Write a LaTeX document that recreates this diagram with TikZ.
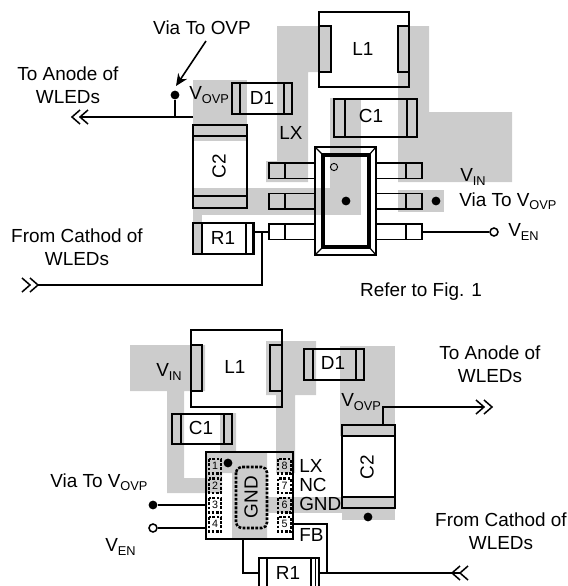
\documentclass[tikz,border=0pt]{standalone}
\usepackage{fontspec}
\setmainfont{Liberation Sans}
\usetikzlibrary{arrows.meta}
\definecolor{padgray}{HTML}{CCCCCC}
\newcommand{\lowtxt}[1]{\raisebox{-2.6pt}{\fontsize{9.6}{10}\selectfont #1}}
\tikzset{
  lbl/.style={font=\fontsize{14.2}{15}\selectfont,inner sep=0pt,align=center},
  pinnum/.style={font=\fontsize{8}{8}\selectfont,inner sep=0pt},
  part/.style={draw=black,line width=1.15pt},
  wire/.style={draw=black,line width=1.15pt},
  pad/.style={fill=padgray,draw=none},
  via/.style={circle,fill=black,draw=none,minimum size=6.6pt,inner sep=0pt},
  term/.style={circle,fill=white,draw=black,line width=1.15pt,minimum size=6pt,inner sep=0pt},
  pinbox/.style={draw=black,line width=1.9pt,dash pattern=on 2.1pt off 1.1pt},
}
\newcommand{\chevL}[2]{\draw[wire] (#1+8,#2-7) -- (#1,#2) -- (#1+8,#2+7);\draw[wire] (#1+16,#2-7) -- (#1+8,#2) -- (#1+16,#2+7);}
\newcommand{\chevR}[2]{\draw[wire] (#1-8,#2-7) -- (#1,#2) -- (#1-8,#2+7);\draw[wire] (#1-16,#2-7) -- (#1-8,#2) -- (#1-16,#2+7);}
\begin{document}
\begin{tikzpicture}[x=0.75pt,y=-0.75pt]
\useasboundingbox (0,0) rectangle (568,586);
\clip (0,0) rectangle (568,586);
% ---------- top: copper
\fill[pad] (277,26) -- (331,26) -- (331,72) -- (308,72) -- (308,182) -- (266,182) -- (266,161) -- (277,161) -- cycle;
\fill[pad] (398,26) -- (429,26) -- (429,112) -- (512,112) -- (512,182) -- (398,182) -- cycle;
\fill[pad] (330,98) rectangle (361,215);
\fill[pad] (193,188) rectangle (361,215);
\fill[pad] (193,80) rectangle (247,141);
\fill[pad] (193,215) rectangle (202,254);
\fill[pad] (398,190) rectangle (444,212);
% top: L1
\draw[part] (319,12) rectangle (409,87);
\draw[part] (319,26) rectangle (331,72);
\draw[part] (398,26) rectangle (409,72);
\node[lbl] (l1a) at (363,49) {L1};
% top: D1
\draw[part] (232,83) rectangle (292,114);
\draw[part] (240,83) -- (240,114) (284,83) -- (284,114);
\node[lbl] (d1a) at (262,98) {D1};
% top: C1
\draw[part] (334,99) rectangle (417,137);
\draw[part] (345,99) -- (345,137) (407,99) -- (407,137);
\node[lbl] (c1a) at (371,116) {C1};
% top: C2
\draw[part] (193,125) rectangle (247,208);
\draw[part] (193,136) -- (247,136) (193,196) -- (247,196);
\node[lbl,rotate=90] (c2a) at (219,166) {C2};
% top: R1
\draw[part] (193,223) rectangle (254,254);
\draw[part] (202,223) -- (202,254) (246,223) -- (246,254);
\draw[line width=0.5pt] (252,223) -- (252,254);
\node[lbl] (r1a) at (223,238) {R1};
% top: IC pins
\foreach \yy in {163,193.5,224}{
  \draw[part] (269,\yy) rectangle (315,\yy+15.5);
  \draw[part] (285,\yy) -- (285,\yy+15.5);
  \draw[part] (376,\yy) rectangle (422,\yy+15.5);
  \draw[part] (406,\yy) -- (406,\yy+15.5);
}
% top: IC body
\draw[draw=black,line width=2pt] (315,147) rectangle (376,255);
\draw[draw=black,line width=2.3pt] (323,155) rectangle (369,247);
\draw[part,line width=0.9pt] (315,147) -- (323,155) (376,147) -- (369,155) (315,255) -- (323,247) (376,255) -- (369,247);
\draw[line width=0.7pt] (334,167) circle (3.6);
\node[via] (viaic) at (346,201) {};
\node[via] (viar) at (436,201) {};
% top: wires
\node[via] (viaovp) at (175,95) {};
\coordinate (jt) at (175,117);
\coordinate (c2tl) at (193,117);
\coordinate (anodeend) at (80,117);
\draw[wire] (c2tl) -- (anodeend);
\draw[wire] (viaovp) -- (jt);
\chevL{72}{117}
\coordinate (viatail) at (206,41);
\draw[wire,-{Stealth[length=9pt,width=8pt]}] (viatail) -- (176,86);
\coordinate (r1r) at (254,232);
\coordinate (p3l) at (269,232);
\coordinate (jr) at (262,232);
\coordinate (jd) at (262,285);
\coordinate (cathend) at (38,285);
\draw[wire] (r1r) -- (p3l);
\draw[wire] (jr) -- (jd) -- (cathend);
\chevR{38}{285}
\coordinate (p4r) at (422,232);
\node[term] (ven) at (494,232) {};
\draw[wire] (p4r) -- (ven);
% top: labels
\node[lbl] (t1) at (202,28) {Via To OVP};
\node[lbl] (t2) at (68,85) {To Anode of\\[2.5pt]WLEDs};
\node[lbl,anchor=west] (t3) at (189,95) {V\lowtxt{OVP}};
\node[lbl] (t4) at (291,133) {LX};
\node[lbl,anchor=west] (t5) at (460,177) {V\lowtxt{IN}};
\node[lbl,anchor=west] (t6) at (459,201) {Via To V\lowtxt{OVP}};
\node[lbl,anchor=west] (t7) at (508,232) {V\lowtxt{EN}};
\node[lbl] (t8) at (77,247) {From Cathod of\\[2.5pt]WLEDs};
\node[lbl] (t9) at (421,292) {Refer to Fig. 1};
% ---------- bottom: copper
\fill[pad] (130,345) -- (205,345) -- (205,391) -- (184,391) -- (184,478) -- (206,478) -- (206,452) -- (220,452) -- (220,413) -- (236,413) -- (236,452) -- (267,452) -- (267,539) -- (232,539) -- (232,473) -- (222,473) -- (222,493) -- (167,493) -- (167,391) -- (130,391) -- cycle;
\fill[pad] (267,497) rectangle (342,513);
\fill[pad] (342,497) rectangle (395,520);
\fill[pad] (266,341) -- (316,341) -- (316,395) -- (295,395) -- (295,473) -- (276,473) -- (276,395) -- (266,395) -- cycle;
\fill[pad] (340,346) rectangle (395,436);
% bottom: L1
\draw[part] (191,330) rectangle (282,407);
\draw[part] (191,345) rectangle (202,391);
\draw[part] (270,345) rectangle (282,391);
\node[lbl] (l1b) at (235,367) {L1};
% bottom: D1
\draw[part] (304,349) rectangle (364,380);
\draw[part] (313,349) -- (313,380) (356,349) -- (356,380);
\node[lbl] (d1b) at (333,363) {D1};
% bottom: C1
\draw[part] (172,414) rectangle (232,444);
\draw[part] (181,414) -- (181,444) (224,414) -- (224,444);
\node[lbl] (c1b) at (201,428) {C1};
% bottom: C2
\draw[part] (342,425) rectangle (395,508);
\draw[part] (342,436) -- (395,436) (342,497) -- (395,497);
\node[lbl,rotate=90] (c2b) at (367,467) {C2};
\node[via] (viac2) at (368,517) {};
% bottom: IC
\draw[part] (206,452) rectangle (293,539);
\foreach \yy/\nl/\nr in {459/1/8,478.5/2/7,498/3/6,517/4/5}{
  \draw[pinbox] (209,\yy) rectangle (221,\yy+14.5);
  \draw[pinbox] (278,\yy) rectangle (291,\yy+14.5);
  \node[pinnum] at (215,\yy+7.3) {\nl};
  \node[pinnum] at (284.5,\yy+7.3) {\nr};
}
\draw[pinbox,rounded corners=4pt] (236,467) rectangle (267,528);
\node[lbl,rotate=90] (gndb) at (251,497) {GND};
\node[via] (via1) at (228,463) {};
% bottom: R1
\draw[part] (259,558) rectangle (319,592);
\draw[part] (267,558) -- (267,592) (311,558) -- (311,592) (315.5,558) -- (315.5,592);
\node[lbl] (r1b) at (288,573) {R1};
% bottom: wires
\coordinate (c2w) at (383,425);
\coordinate (c2c) at (383,407);
\coordinate (toan) at (484,407);
\draw[wire] (c2w) -- (c2c) -- (toan);
\chevR{492}{407}
\node[via] (viap3) at (153,505) {};
\coordinate (p3b) at (206,505);
\draw[wire] (viap3) -- (p3b);
\node[term] (venb) at (153,528) {};
\coordinate (p4b) at (206,528);
\draw[wire] (venb) -- (p4b);
\coordinate (fb0) at (293,524);
\coordinate (fb1) at (327,524);
\coordinate (fb2) at (327,573);
\draw[wire] (fb0) -- (fb1) -- (fb2);
\coordinate (ic0) at (243,539);
\coordinate (ic1) at (243,573);
\coordinate (r1bl) at (259,573);
\draw[wire] (ic0) -- (ic1) -- (r1bl);
\coordinate (r1br) at (319,573);
\coordinate (cathb) at (460,573);
\draw[wire] (r1br) -- (cathb);
\chevL{452}{573}
% bottom: labels
\node[lbl,anchor=west] (b1) at (156,372) {V\lowtxt{IN}};
\node[lbl,anchor=west] (b2) at (341,402) {V\lowtxt{OVP}};
\node[lbl] (b3) at (490,364) {To Anode of\\[2.5pt]WLEDs};
\node[lbl] (b4) at (501,531) {From Cathod of\\[2.5pt]WLEDs};
\node[lbl,anchor=west] (b5) at (50,482) {Via To V\lowtxt{OVP}};
\node[lbl,anchor=west] (b6) at (105,547) {V\lowtxt{EN}};
\node[lbl,anchor=west] (b7) at (299,466) {LX};
\node[lbl,anchor=west] (b8) at (299,485) {NC};
\node[lbl,anchor=west] (b9) at (299,504) {GND};
\node[lbl,anchor=west] (b10) at (299,535) {FB};
\end{tikzpicture}
\end{document}
